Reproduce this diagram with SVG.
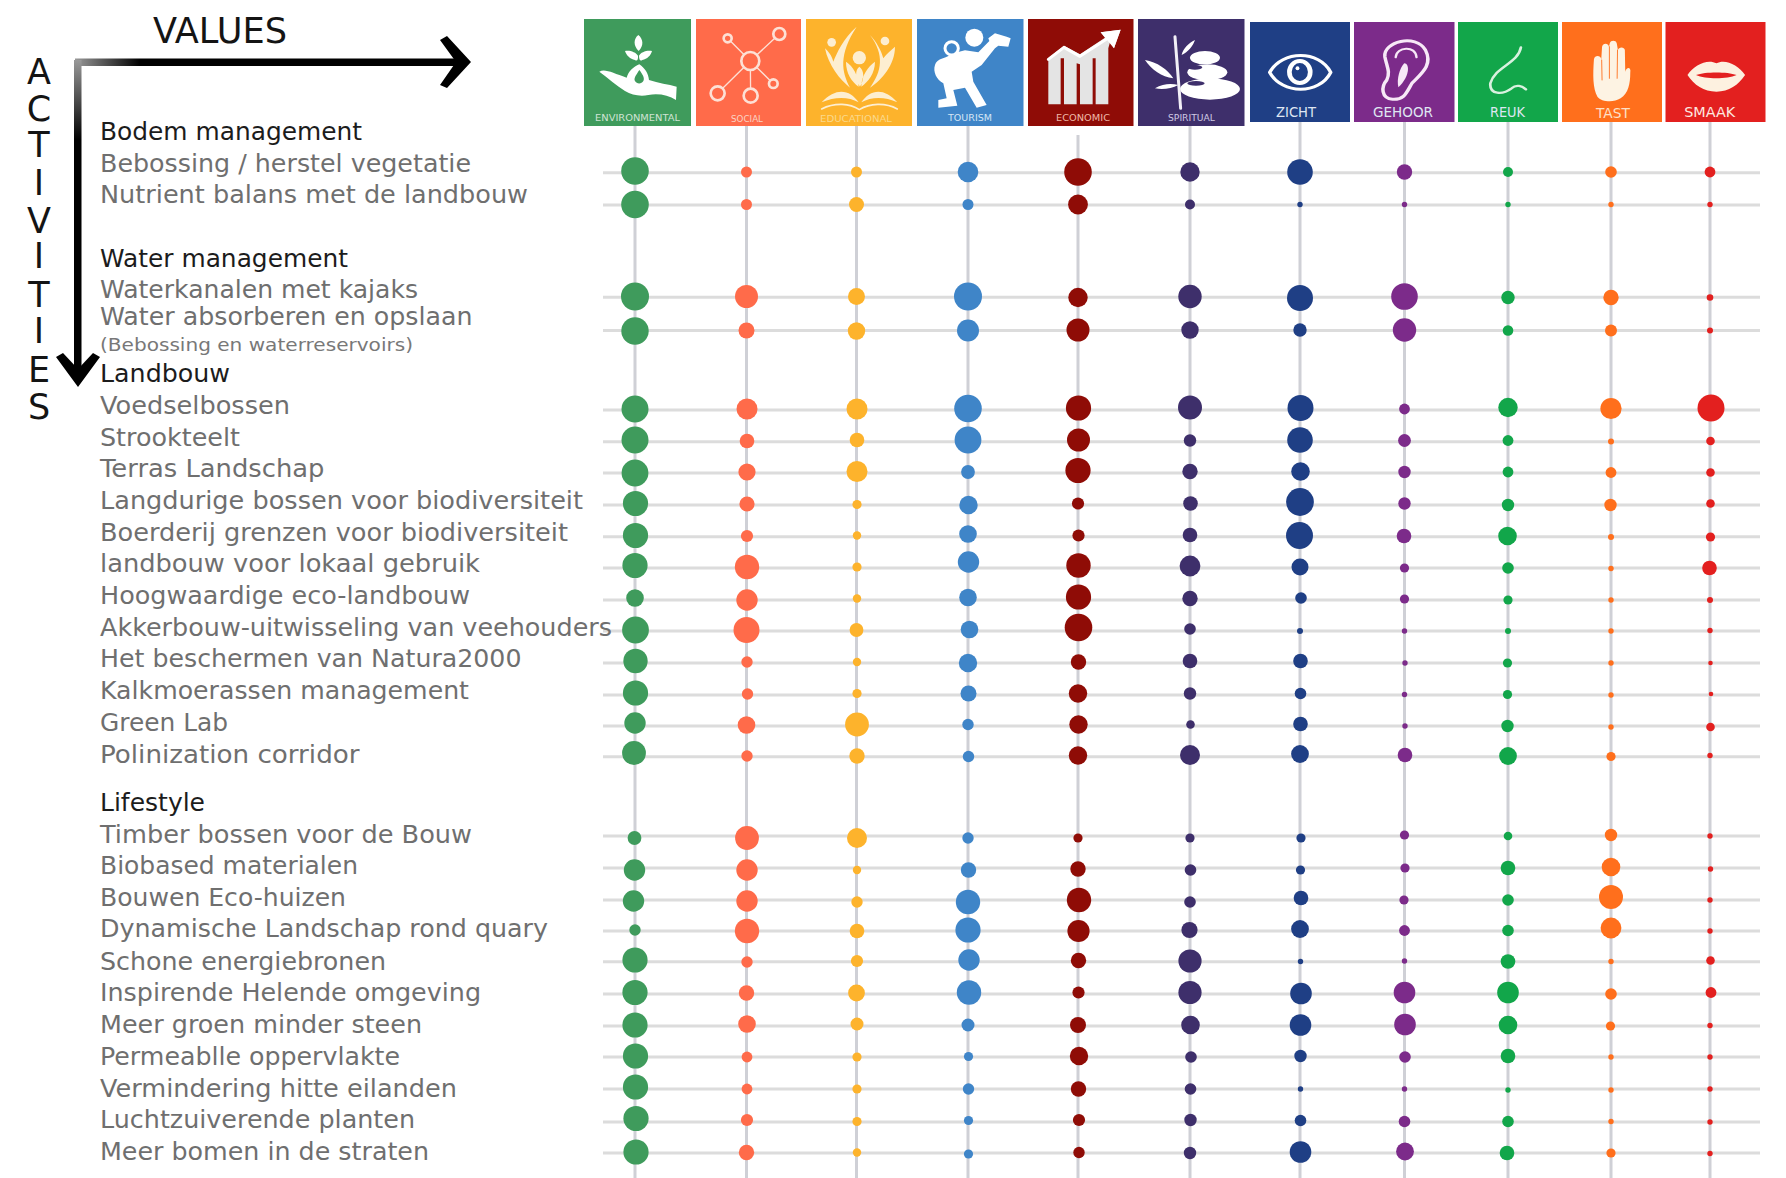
<svg xmlns="http://www.w3.org/2000/svg" width="1786" height="1178" viewBox="0 0 1786 1178">
<style>
text{font-family:"DejaVu Sans","Liberation Sans",sans-serif}
.h{font-size:24.5px;fill:#1c1c1c}
.t{font-size:24.5px;fill:#6f6f6f}
.s{font-size:18.5px;fill:#787878}
.ax{font-size:35px;fill:#141414}
.ac{text-anchor:middle}
.l1{font-size:9.5px;text-anchor:middle}
.l2{font-size:14.5px;text-anchor:middle;fill:#dfe6f2}
.hl line{stroke:#dcdcdc;stroke-width:3}
.vl line{stroke:#cfd0d6;stroke-width:3}
.c0{fill:#3f9b5c}.c1{fill:#ff6b4a}.c2{fill:#fdb32c}.c3{fill:#3f85c8}.c4{fill:#8f0c06}.c5{fill:#3e2f6b}.c6{fill:#1f3f85}.c7{fill:#7c2b8a}.c8{fill:#12a64a}.c9{fill:#ff6f1c}.c10{fill:#e3201f}
.w{fill:#fff}.ln{fill:none;stroke-linecap:round;stroke-linejoin:round}
</style>
<defs>
<linearGradient id="gh" gradientUnits="userSpaceOnUse" x1="75" y1="0" x2="140" y2="0"><stop offset="0" stop-color="#999"/><stop offset="1" stop-color="#000"/></linearGradient>
<linearGradient id="gv" gradientUnits="userSpaceOnUse" x1="0" y1="60" x2="0" y2="140"><stop offset="0" stop-color="#999"/><stop offset="1" stop-color="#000"/></linearGradient>
</defs>
<rect width="1786" height="1178" fill="#fff"/>

<g id="connectors">
<g class="vl">
<line x1="635" y1="126" x2="635" y2="1178"/><line x1="746.5" y1="126" x2="746.5" y2="1178"/><line x1="856.5" y1="126" x2="856.5" y2="1178"/><line x1="968" y1="126" x2="968" y2="1178"/><line x1="1078" y1="135" x2="1078" y2="1178"/><line x1="1190" y1="126" x2="1190" y2="1178"/><line x1="1300" y1="122" x2="1300" y2="1178"/><line x1="1404.5" y1="122" x2="1404.5" y2="1178"/><line x1="1508" y1="122" x2="1508" y2="1178"/><line x1="1611" y1="122" x2="1611" y2="1178"/><line x1="1710" y1="122" x2="1710" y2="1178"/>
</g>
<g class="hl">
<line x1="603" y1="172.7" x2="1760" y2="172.7"/><line x1="603" y1="205" x2="1760" y2="205"/><line x1="603" y1="297.3" x2="1760" y2="297.3"/><line x1="603" y1="330.5" x2="1760" y2="330.5"/><line x1="603" y1="410" x2="1760" y2="410"/><line x1="603" y1="441.7" x2="1760" y2="441.7"/><line x1="603" y1="473" x2="1760" y2="473"/><line x1="603" y1="505" x2="1760" y2="505"/><line x1="603" y1="536.7" x2="1760" y2="536.7"/><line x1="603" y1="568" x2="1760" y2="568"/><line x1="603" y1="600" x2="1760" y2="600"/><line x1="603" y1="631" x2="1760" y2="631"/><line x1="603" y1="663" x2="1760" y2="663"/><line x1="603" y1="695" x2="1760" y2="695"/><line x1="603" y1="726" x2="1760" y2="726"/><line x1="603" y1="756.7" x2="1760" y2="756.7"/><line x1="603" y1="836" x2="1760" y2="836"/><line x1="603" y1="868" x2="1760" y2="868"/><line x1="603" y1="900" x2="1760" y2="900"/><line x1="603" y1="931" x2="1760" y2="931"/><line x1="603" y1="961.7" x2="1760" y2="961.7"/><line x1="603" y1="994" x2="1760" y2="994"/><line x1="603" y1="1026" x2="1760" y2="1026"/><line x1="603" y1="1057" x2="1760" y2="1057"/><line x1="603" y1="1089" x2="1760" y2="1089"/><line x1="603" y1="1122" x2="1760" y2="1122"/><line x1="603" y1="1153" x2="1760" y2="1153"/>
</g>
</g>

<g id="axes">
<rect x="75" y="58.5" width="382" height="7.5" fill="url(#gh)"/>
<rect x="74" y="60" width="7.5" height="315" fill="url(#gv)"/>
<path d="M440 40 L447 36 L471 62 L447 88 L440 85 L456 62Z" fill="#000"/>
<path d="M56 357 L63 353 L78 369 L93 353 L100 357 L78 387Z" fill="#000"/>
<text class="ax" x="153" y="43" textLength="134" lengthAdjust="spacingAndGlyphs">VALUES</text>
<g class="ac">
<text class="ax" x="39" y="84">A</text><text class="ax" x="39" y="120.7">C</text><text class="ax" x="39" y="156.7">T</text><text class="ax" x="39" y="195">I</text><text class="ax" x="39" y="233">V</text><text class="ax" x="39" y="268">I</text><text class="ax" x="39" y="306.7">T</text><text class="ax" x="39" y="343">I</text><text class="ax" x="39" y="381.7">E</text><text class="ax" x="39" y="419">S</text>
</g>
</g>

<g id="tile-environmental"><rect class="c0" x="584" y="19" width="107" height="107"/>
<g transform="translate(580 15) scale(.3333)"><path class="w" d="M58 170C75 160 100 175 140 188C145 170 160 155 178 148C195 160 205 175 207 195C235 205 265 208 290 215L288 255C265 240 235 235 205 240C180 245 155 240 135 228C110 212 85 190 58 170Z"/><path class="c0" d="M178 165C188 178 195 190 190 198C185 208 170 208 165 198C160 190 170 178 178 165Z"/><path class="w" d="M175 60C190 72 192 92 176 108C160 92 160 72 175 60ZM135 108C150 105 168 112 174 122C175 132 172 140 165 135C150 132 140 122 135 108ZM216 108C200 105 182 112 177 122C177 132 180 140 187 135C202 132 212 122 216 108Z"/></g>
<text class="l1" x="637.5" y="121" fill="#cfe3d4" textLength="85" lengthAdjust="spacingAndGlyphs">ENVIRONMENTAL</text></g>

<g id="tile-social"><rect class="c1" x="696" y="19" width="105" height="107"/>
<g transform="translate(580 15) scale(.3333)" class="ln" stroke="#fde0d5"><path stroke-width="4" d="M511 138L598 57M511 138L443 70M511 138L413 235M511 138L512 242M511 138L580 206"/><g stroke-width="8"><circle class="c1" cx="511" cy="138" r="27" stroke="#fde0d5"/><circle class="c1" cx="598" cy="57" r="18" stroke="#fde0d5"/><circle class="c1" cx="443" cy="70" r="12" stroke="#fde0d5"/><circle class="c1" cx="413" cy="235" r="21" stroke="#fde0d5"/><circle class="c1" cx="512" cy="242" r="21" stroke="#fde0d5"/><circle class="c1" cx="580" cy="206" r="13" stroke="#fde0d5"/></g></g>
<text class="l1" x="747" y="122" fill="#fbd3c4" textLength="32" lengthAdjust="spacingAndGlyphs">SOCIAL</text></g>

<g id="tile-educational"><rect class="c2" x="806" y="19" width="106" height="107"/>
<g transform="translate(580 15) scale(.3333)" fill="#fdeed0"><circle cx="755" cy="82" r="13"/><circle cx="915" cy="78" r="13"/><circle cx="838" cy="128" r="20"/><path d="M735 100C745 150 780 195 810 218C785 170 775 120 830 35C790 70 770 115 760 140C755 120 745 110 735 100ZM945 95C945 150 905 195 870 218C905 170 915 120 870 60C890 80 905 110 910 130C920 115 935 105 945 95ZM836 215C815 200 798 175 798 140C820 155 835 180 836 215ZM844 215C865 200 885 175 885 140C865 155 845 180 844 215ZM840 215C825 190 825 165 838 155C852 165 855 190 840 215Z"/><path d="M725 262C770 215 810 225 836 262C805 245 765 245 725 262ZM952 262C910 215 870 225 844 262C875 245 915 245 952 262Z"/><path class="ln" stroke="#fdeed0" stroke-width="5" d="M725 282C765 262 810 265 838 284C870 265 915 262 952 282"/></g>
<text class="l1" x="856" y="122" fill="#fbd98a" textLength="72" lengthAdjust="spacingAndGlyphs">EDUCATIONAL</text></g>

<g id="tile-tourism"><rect class="c3" x="917" y="19" width="106.5" height="107"/>
<g transform="translate(910 15) scale(.3333)"><circle class="w" cx="193" cy="68" r="27"/><path class="w" d="M75 150C80 130 110 130 130 115L165 106L205 112L238 78L235 70L255 55L290 65L302 70L295 95L265 92L255 100L215 150L185 170L190 200L230 270L200 278L165 218L130 225L142 272L85 278L85 255L110 250L100 205C80 195 68 170 75 150Z"/><circle class="c3" cx="125" cy="100" r="20" stroke="#fff" stroke-width="9"/></g>
<text class="l1" x="970" y="121" fill="#d5e6f5" textLength="44" lengthAdjust="spacingAndGlyphs">TOURISM</text></g>

<g id="tile-economic"><rect class="c4" x="1028" y="19" width="105.5" height="107"/>
<g transform="translate(910 15) scale(.3333)"><path fill="#e4e4e4" d="M415 130L462 92L510 118L585 68L572 52L632 44L612 100L600 82L595 100L595 268L557 268L557 130L548 130L548 268L510 268L510 148L500 145L500 268L462 268L462 130L452 130L452 268L415 268Z"/><path class="ln" stroke="#fff" stroke-width="9" d="M415 133L462 97L510 124L590 72"/><path class="w" d="M572 52L632 44L612 100Z"/></g>
<text class="l1" x="1083" y="121" fill="#f0b8a8" textLength="54" lengthAdjust="spacingAndGlyphs">ECONOMIC</text></g>

<g id="tile-spiritual"><rect class="c5" x="1138" y="19" width="106.5" height="107"/>
<g transform="translate(910 15) scale(.3333)"><ellipse class="w" cx="885" cy="128" rx="45" ry="20"/><ellipse class="w" cx="892" cy="172" rx="60" ry="24"/><ellipse class="w" cx="900" cy="222" rx="90" ry="32"/><ellipse class="c5" cx="855" cy="157" rx="22" ry="7"/><ellipse class="c5" cx="858" cy="205" rx="26" ry="7"/><path class="ln" stroke="#f2f0f7" stroke-width="9" d="M795 65L812 280"/><path class="w" d="M705 135C740 140 775 165 790 190C755 185 725 165 705 135ZM735 220C760 205 785 205 805 210C785 220 760 225 735 220ZM855 75C848 95 835 110 815 120C820 100 835 85 855 75Z"/></g>
<text class="l1" x="1191.5" y="121" fill="#cfc9e3" textLength="47" lengthAdjust="spacingAndGlyphs">SPIRITUAL</text></g>

<g id="tile-zicht"><rect class="c6" x="1250" y="22" width="100" height="100"/>
<g transform="translate(1180 0) scale(.3865 .3333)"><path class="ln" stroke="#fff" stroke-width="9" d="M232 217C265 150 360 150 390 217C360 285 265 285 232 217Z"/><ellipse class="ln" cx="310" cy="216" rx="27" ry="33" stroke="#fff" stroke-width="12"/><ellipse class="w" cx="304" cy="205" rx="5" ry="6"/></g>
<text class="l2" x="1296" y="116.7" textLength="40" lengthAdjust="spacingAndGlyphs">ZICHT</text></g>

<g id="tile-gehoor"><rect class="c7" x="1354" y="22" width="100.5" height="100"/>
<g transform="translate(1180 0) scale(.3865 .3333)"><path class="ln" stroke="#f7e9f7" stroke-width="9" d="M530 170C525 125 610 100 635 150C655 195 625 220 600 250C585 280 580 300 550 298C520 295 520 260 535 240C545 215 535 200 530 170Z"/><path class="ln" stroke="#f7e9f7" stroke-width="6" d="M558 172C560 140 610 135 612 172"/><path fill="#f7e9f7" d="M580 190C595 190 595 230 565 262C560 240 568 205 580 190Z"/></g>
<text class="l2" x="1403" y="116.7" textLength="60" lengthAdjust="spacingAndGlyphs">GEHOOR</text></g>

<g id="tile-reuk"><rect class="c8" x="1458" y="22" width="100" height="100"/>
<g transform="translate(1180 0) scale(.3865 .3333)"><path class="ln" stroke="#d8f1df" stroke-width="7" d="M882 142C875 190 815 200 803 250C800 285 835 285 858 265C870 252 885 258 895 268"/></g>
<text class="l2" x="1507.5" y="116.7" textLength="35" lengthAdjust="spacingAndGlyphs">REUK</text></g>

<g id="tile-tast"><rect class="c9" x="1562" y="22" width="100" height="100"/>
<g transform="translate(1180 0) scale(.3865 .3333)"><path fill="#fdf3e3" d="M1080 290C1068 265 1068 225 1071 178C1073 165 1088 165 1090 178L1092 140C1094 128 1108 128 1110 140L1112 130C1114 120 1128 120 1130 130L1133 150C1135 140 1150 140 1151 150L1152 215C1155 200 1168 200 1165 218C1165 250 1160 280 1140 295C1120 310 1090 305 1080 290Z"/><path class="ln" stroke="#ff6f1c" stroke-width="2.5" d="M1091 180L1092 240M1111 140L1111 235M1132 150L1131 235"/></g>
<text class="l2" x="1613" y="118" textLength="34" lengthAdjust="spacingAndGlyphs" style="fill:#fde0c8">TAST</text></g>

<g id="tile-smaak"><rect class="c10" x="1665.5" y="22" width="100" height="100"/>
<g transform="translate(1180 0) scale(.3865 .3333)"><path fill="#fdf1e0" d="M1313 225C1330 195 1365 175 1388 190C1410 175 1445 195 1462 225C1445 255 1420 275 1388 275C1355 275 1330 255 1313 225Z"/><path class="c10" d="M1335 225C1360 215 1415 215 1440 225C1415 238 1360 238 1335 225Z"/></g>
<text class="l2" x="1709.7" y="116.7" textLength="51" lengthAdjust="spacingAndGlyphs" style="fill:#fde8e0">SMAAK</text></g>

<g id="head-bodem"><text class="h" x="100" y="140" textLength="262" lengthAdjust="spacingAndGlyphs">Bodem management</text></g>
<g id="head-water"><text class="h" x="100" y="266.7" textLength="248" lengthAdjust="spacingAndGlyphs">Water management</text></g>
<g id="head-landbouw"><text class="h" x="100" y="381.7" textLength="130" lengthAdjust="spacingAndGlyphs">Landbouw</text></g>
<g id="head-lifestyle"><text class="h" x="100" y="810.7" textLength="105" lengthAdjust="spacingAndGlyphs">Lifestyle</text></g>
<g id="note-water"><text class="s" x="100" y="351" textLength="313" lengthAdjust="spacingAndGlyphs">(Bebossing en waterreservoirs)</text></g>

<g id="row-01"><text class="t" x="100" y="171.7" textLength="371" lengthAdjust="spacingAndGlyphs">Bebossing / herstel vegetatie</text>
<circle class="c0" cx="635" cy="171" r="13.8"/><circle class="c1" cx="746.5" cy="172" r="5.5"/><circle class="c2" cx="856.5" cy="172" r="5.5"/><circle class="c3" cx="968" cy="172" r="10.3"/><circle class="c4" cx="1078" cy="172" r="13.8"/><circle class="c5" cx="1190" cy="172" r="9.7"/><circle class="c6" cx="1300" cy="172" r="12.8"/><circle class="c7" cx="1404.5" cy="172" r="7.7"/><circle class="c8" cx="1508" cy="172" r="5"/><circle class="c9" cx="1611" cy="172" r="5.8"/><circle class="c10" cx="1710" cy="172" r="5.4"/></g>
<g id="row-02"><text class="t" x="100" y="202.7" textLength="428" lengthAdjust="spacingAndGlyphs">Nutrient balans met de landbouw</text>
<circle class="c0" cx="635" cy="204.5" r="13.8"/><circle class="c1" cx="746.5" cy="204.5" r="5.5"/><circle class="c2" cx="856.5" cy="204.5" r="7.5"/><circle class="c3" cx="968" cy="204.5" r="5.5"/><circle class="c4" cx="1078" cy="204.5" r="9.9"/><circle class="c5" cx="1190" cy="204.5" r="5"/><circle class="c6" cx="1300" cy="204.5" r="2.7"/><circle class="c7" cx="1404.5" cy="204.5" r="2.7"/><circle class="c8" cx="1508" cy="204.5" r="2.7"/><circle class="c9" cx="1611" cy="204.5" r="2.7"/><circle class="c10" cx="1710" cy="204.5" r="2.7"/></g>
<g id="row-03"><text class="t" x="100" y="297.7" textLength="318" lengthAdjust="spacingAndGlyphs">Waterkanalen met kajaks</text>
<circle class="c0" cx="635" cy="296.5" r="14"/><circle class="c1" cx="746.5" cy="296.5" r="11.5"/><circle class="c2" cx="856.5" cy="296.5" r="8.5"/><circle class="c3" cx="968" cy="296.5" r="14"/><circle class="c4" cx="1078" cy="297.5" r="9.7"/><circle class="c5" cx="1190" cy="296.5" r="11.7"/><circle class="c6" cx="1300" cy="298" r="13"/><circle class="c7" cx="1404.5" cy="296.5" r="13.3"/><circle class="c8" cx="1508" cy="297.5" r="6.7"/><circle class="c9" cx="1611" cy="297.5" r="7.7"/><circle class="c10" cx="1710" cy="297.5" r="3.3"/></g>
<g id="row-04"><text class="t" x="100" y="325" textLength="372.5" lengthAdjust="spacingAndGlyphs">Water absorberen en opslaan</text>
<circle class="c0" cx="635" cy="331" r="13.7"/><circle class="c1" cx="746.5" cy="330.5" r="8"/><circle class="c2" cx="856.5" cy="331" r="8.7"/><circle class="c3" cx="968" cy="330.5" r="11"/><circle class="c4" cx="1078" cy="330" r="11.5"/><circle class="c5" cx="1190" cy="330" r="8.7"/><circle class="c6" cx="1300" cy="330" r="6.7"/><circle class="c7" cx="1404.5" cy="330" r="11.7"/><circle class="c8" cx="1508" cy="330.5" r="5.3"/><circle class="c9" cx="1611" cy="330.5" r="6"/><circle class="c10" cx="1710" cy="330.5" r="3"/></g>
<g id="row-05"><text class="t" x="100" y="413.5" textLength="190" lengthAdjust="spacingAndGlyphs">Voedselbossen</text>
<circle class="c0" cx="635" cy="409" r="13.5"/><circle class="c1" cx="747" cy="409" r="10.5"/><circle class="c2" cx="857" cy="409" r="10.5"/><circle class="c3" cx="968" cy="408.5" r="13.8"/><circle class="c4" cx="1078.5" cy="408" r="12.6"/><circle class="c5" cx="1190" cy="407.5" r="12"/><circle class="c6" cx="1300.5" cy="408" r="13"/><circle class="c7" cx="1404.5" cy="409" r="5.4"/><circle class="c8" cx="1508" cy="407.5" r="9.7"/><circle class="c9" cx="1611" cy="408.5" r="10.6"/><circle class="c10" cx="1711" cy="408" r="13.5"/></g>
<g id="row-06"><text class="t" x="100" y="445.5" textLength="140" lengthAdjust="spacingAndGlyphs">Strookteelt</text>
<circle class="c0" cx="635" cy="440" r="13.5"/><circle class="c1" cx="747" cy="441" r="7.3"/><circle class="c2" cx="857" cy="440" r="7.3"/><circle class="c3" cx="968" cy="440" r="13.4"/><circle class="c4" cx="1078.5" cy="440" r="11.5"/><circle class="c5" cx="1190" cy="440.5" r="6.2"/><circle class="c6" cx="1300" cy="440" r="12.8"/><circle class="c7" cx="1404.5" cy="440.5" r="6.4"/><circle class="c8" cx="1508" cy="440.5" r="5.4"/><circle class="c9" cx="1611" cy="441.5" r="3"/><circle class="c10" cx="1710.5" cy="441" r="4.3"/></g>
<g id="row-07"><text class="t" x="100" y="477" textLength="224.5" lengthAdjust="spacingAndGlyphs">Terras Landschap</text>
<circle class="c0" cx="635" cy="473" r="13.4"/><circle class="c1" cx="747" cy="472" r="8.6"/><circle class="c2" cx="857" cy="471.5" r="10.5"/><circle class="c3" cx="968" cy="472" r="6.9"/><circle class="c4" cx="1078" cy="470.5" r="12.6"/><circle class="c5" cx="1190" cy="471.5" r="7.7"/><circle class="c6" cx="1300.5" cy="471.5" r="9.3"/><circle class="c7" cx="1404.5" cy="472" r="6.2"/><circle class="c8" cx="1508" cy="472" r="5.4"/><circle class="c9" cx="1611" cy="472.5" r="5.4"/><circle class="c10" cx="1710.5" cy="472.5" r="4.3"/></g>
<g id="row-08"><text class="t" x="100" y="508.7" textLength="483" lengthAdjust="spacingAndGlyphs">Langdurige bossen voor biodiversiteit</text>
<circle class="c0" cx="635.5" cy="503.5" r="12.6"/><circle class="c1" cx="747" cy="504" r="7.6"/><circle class="c2" cx="857" cy="504.5" r="4.6"/><circle class="c3" cx="968.5" cy="505" r="9.2"/><circle class="c4" cx="1078" cy="503.5" r="6.1"/><circle class="c5" cx="1190.5" cy="503.5" r="7.3"/><circle class="c6" cx="1300" cy="502" r="13.9"/><circle class="c7" cx="1404.5" cy="503.5" r="6.2"/><circle class="c8" cx="1508" cy="505" r="6.2"/><circle class="c9" cx="1610.5" cy="505" r="6.2"/><circle class="c10" cx="1710.5" cy="503.5" r="4.3"/></g>
<g id="row-09"><text class="t" x="100" y="540.7" textLength="468" lengthAdjust="spacingAndGlyphs">Boerderij grenzen voor biodiversiteit</text>
<circle class="c0" cx="635.5" cy="535.5" r="12.6"/><circle class="c1" cx="747" cy="536" r="6.1"/><circle class="c2" cx="857" cy="535.5" r="4.2"/><circle class="c3" cx="968" cy="534" r="8.8"/><circle class="c4" cx="1078.5" cy="535.5" r="6.1"/><circle class="c5" cx="1190" cy="535" r="7.3"/><circle class="c6" cx="1299.5" cy="535.5" r="13.5"/><circle class="c7" cx="1404" cy="536" r="7.3"/><circle class="c8" cx="1507.5" cy="536" r="9.3"/><circle class="c9" cx="1611" cy="537" r="3"/><circle class="c10" cx="1710.5" cy="537" r="4.6"/></g>
<g id="row-10"><text class="t" x="100" y="572" textLength="380" lengthAdjust="spacingAndGlyphs">landbouw voor lokaal gebruik</text>
<circle class="c0" cx="635" cy="565.5" r="12.6"/><circle class="c1" cx="747" cy="567" r="12.2"/><circle class="c2" cx="857" cy="567" r="4.6"/><circle class="c3" cx="968.5" cy="562" r="10.7"/><circle class="c4" cx="1078.5" cy="565.5" r="12.2"/><circle class="c5" cx="1190" cy="566" r="10.4"/><circle class="c6" cx="1300" cy="567" r="8.5"/><circle class="c7" cx="1404.5" cy="568" r="4.6"/><circle class="c8" cx="1508" cy="568" r="5.8"/><circle class="c9" cx="1611" cy="568.5" r="2.7"/><circle class="c10" cx="1709.5" cy="568" r="7.3"/></g>
<g id="row-11"><text class="t" x="100" y="604" textLength="370" lengthAdjust="spacingAndGlyphs">Hoogwaardige eco-landbouw</text>
<circle class="c0" cx="635" cy="598" r="8.8"/><circle class="c1" cx="747" cy="600" r="10.7"/><circle class="c2" cx="857" cy="598.5" r="4.2"/><circle class="c3" cx="968" cy="597.5" r="8.8"/><circle class="c4" cx="1078.5" cy="597" r="12.6"/><circle class="c5" cx="1190" cy="598.5" r="7.7"/><circle class="c6" cx="1301" cy="598" r="5.8"/><circle class="c7" cx="1404.5" cy="599" r="4.6"/><circle class="c8" cx="1508" cy="600" r="4.6"/><circle class="c9" cx="1611" cy="600" r="2.7"/><circle class="c10" cx="1710" cy="600" r="3"/></g>
<g id="row-12"><text class="t" x="100" y="635.7" textLength="512" lengthAdjust="spacingAndGlyphs">Akkerbouw-uitwisseling van veehouders</text>
<circle class="c0" cx="635.5" cy="630" r="13.4"/><circle class="c1" cx="746.5" cy="630" r="13"/><circle class="c2" cx="856.5" cy="630" r="6.9"/><circle class="c3" cx="969.5" cy="629.5" r="8.8"/><circle class="c4" cx="1078.5" cy="627.5" r="13.8"/><circle class="c5" cx="1190" cy="629" r="5.8"/><circle class="c6" cx="1300" cy="631" r="3"/><circle class="c7" cx="1404.5" cy="631" r="2.7"/><circle class="c8" cx="1508" cy="631" r="3"/><circle class="c9" cx="1611" cy="631" r="2.7"/><circle class="c10" cx="1710" cy="630.5" r="2.7"/></g>
<g id="row-13"><text class="t" x="100" y="667" textLength="421.5" lengthAdjust="spacingAndGlyphs">Het beschermen van Natura2000</text>
<circle class="c0" cx="635.5" cy="661" r="12.2"/><circle class="c1" cx="747" cy="662" r="5.7"/><circle class="c2" cx="857" cy="662" r="4.2"/><circle class="c3" cx="968" cy="663" r="9.2"/><circle class="c4" cx="1078.5" cy="662" r="7.7"/><circle class="c5" cx="1190" cy="661" r="7.3"/><circle class="c6" cx="1300.5" cy="661" r="7.3"/><circle class="c7" cx="1405" cy="663" r="2.7"/><circle class="c8" cx="1507.5" cy="663" r="4.6"/><circle class="c9" cx="1611" cy="663" r="2.7"/><circle class="c10" cx="1710.5" cy="663" r="2.3"/></g>
<g id="row-14"><text class="t" x="100" y="699" textLength="369" lengthAdjust="spacingAndGlyphs">Kalkmoerassen management</text>
<circle class="c0" cx="635.5" cy="693" r="12.6"/><circle class="c1" cx="747.5" cy="694" r="5.7"/><circle class="c2" cx="857" cy="693.5" r="4.6"/><circle class="c3" cx="968.5" cy="693.5" r="8"/><circle class="c4" cx="1078" cy="693.5" r="9.2"/><circle class="c5" cx="1190" cy="693.5" r="6.2"/><circle class="c6" cx="1300.5" cy="693.5" r="5.8"/><circle class="c7" cx="1404.5" cy="694.5" r="2.7"/><circle class="c8" cx="1507.5" cy="694.5" r="4.6"/><circle class="c9" cx="1611" cy="695" r="2.7"/><circle class="c10" cx="1711" cy="694" r="2.3"/></g>
<g id="row-15"><text class="t" x="100" y="731" textLength="128" lengthAdjust="spacingAndGlyphs">Green Lab</text>
<circle class="c0" cx="635" cy="723" r="10.7"/><circle class="c1" cx="746.5" cy="725" r="8.8"/><circle class="c2" cx="857" cy="724.5" r="11.9"/><circle class="c3" cx="968" cy="724.5" r="5.7"/><circle class="c4" cx="1078.5" cy="724.5" r="9.2"/><circle class="c5" cx="1190.5" cy="724.5" r="4.3"/><circle class="c6" cx="1300.5" cy="724" r="7.3"/><circle class="c7" cx="1405" cy="726" r="2.7"/><circle class="c8" cx="1507.5" cy="726" r="6.2"/><circle class="c9" cx="1611" cy="727" r="2.7"/><circle class="c10" cx="1710.5" cy="727" r="4.3"/></g>
<g id="row-16"><text class="t" x="100" y="762.7" textLength="259.5" lengthAdjust="spacingAndGlyphs">Polinization corridor</text>
<circle class="c0" cx="634" cy="753" r="11.9"/><circle class="c1" cx="747" cy="756" r="5.7"/><circle class="c2" cx="857" cy="756" r="7.7"/><circle class="c3" cx="968.5" cy="756.5" r="5.7"/><circle class="c4" cx="1078" cy="755.5" r="9.2"/><circle class="c5" cx="1190" cy="755" r="10"/><circle class="c6" cx="1300" cy="754" r="8.9"/><circle class="c7" cx="1405" cy="755" r="7.3"/><circle class="c8" cx="1508" cy="756" r="8.9"/><circle class="c9" cx="1611" cy="756.5" r="4.6"/><circle class="c10" cx="1710" cy="755.5" r="2.7"/></g>
<g id="row-17"><text class="t" x="100" y="842.7" textLength="372" lengthAdjust="spacingAndGlyphs">Timber bossen voor de Bouw</text>
<circle class="c0" cx="634.5" cy="838" r="6.9"/><circle class="c1" cx="747" cy="838" r="11.9"/><circle class="c2" cx="857" cy="838" r="10"/><circle class="c3" cx="968" cy="838" r="5.7"/><circle class="c4" cx="1078" cy="838" r="4.6"/><circle class="c5" cx="1190" cy="838" r="4.6"/><circle class="c6" cx="1301" cy="838" r="4.6"/><circle class="c7" cx="1404.5" cy="835" r="4.6"/><circle class="c8" cx="1508" cy="836" r="4.3"/><circle class="c9" cx="1611" cy="835" r="6.2"/><circle class="c10" cx="1710" cy="836" r="2.7"/></g>
<g id="row-18"><text class="t" x="100" y="874" textLength="258" lengthAdjust="spacingAndGlyphs">Biobased materialen</text>
<circle class="c0" cx="634.5" cy="870" r="10.7"/><circle class="c1" cx="747" cy="870" r="10.7"/><circle class="c2" cx="857" cy="870" r="4.2"/><circle class="c3" cx="968.5" cy="870" r="7.7"/><circle class="c4" cx="1078" cy="869" r="7.7"/><circle class="c5" cx="1190.5" cy="870" r="5.8"/><circle class="c6" cx="1300.5" cy="870" r="4.6"/><circle class="c7" cx="1405" cy="868" r="4.6"/><circle class="c8" cx="1508" cy="868" r="7.3"/><circle class="c9" cx="1611" cy="867" r="9.3"/><circle class="c10" cx="1710.5" cy="869" r="2.7"/></g>
<g id="row-19"><text class="t" x="100" y="906" textLength="246" lengthAdjust="spacingAndGlyphs">Bouwen Eco-huizen</text>
<circle class="c0" cx="633.5" cy="901" r="10.7"/><circle class="c1" cx="747" cy="901" r="10.7"/><circle class="c2" cx="857" cy="902" r="5.7"/><circle class="c3" cx="968" cy="902" r="12.2"/><circle class="c4" cx="1079" cy="900" r="12.2"/><circle class="c5" cx="1190" cy="902" r="5.8"/><circle class="c6" cx="1301" cy="898" r="7.3"/><circle class="c7" cx="1404" cy="900" r="4.6"/><circle class="c8" cx="1508" cy="900" r="5.8"/><circle class="c9" cx="1611" cy="897" r="12"/><circle class="c10" cx="1710" cy="900" r="2.7"/></g>
<g id="row-20"><text class="t" x="100" y="937" textLength="448" lengthAdjust="spacingAndGlyphs">Dynamische Landschap rond quary</text>
<circle class="c0" cx="635" cy="930" r="5.7"/><circle class="c1" cx="747" cy="931" r="12.2"/><circle class="c2" cx="857" cy="931" r="7.3"/><circle class="c3" cx="968" cy="930" r="12.6"/><circle class="c4" cx="1078.5" cy="931" r="11.1"/><circle class="c5" cx="1189.5" cy="930" r="8.1"/><circle class="c6" cx="1300" cy="929" r="8.9"/><circle class="c7" cx="1404.5" cy="930.5" r="5.4"/><circle class="c8" cx="1508" cy="930.5" r="5.8"/><circle class="c9" cx="1611" cy="928" r="10.4"/><circle class="c10" cx="1710" cy="931" r="2.7"/></g>
<g id="row-21"><text class="t" x="100" y="970" textLength="286" lengthAdjust="spacingAndGlyphs">Schone energiebronen</text>
<circle class="c0" cx="635" cy="960" r="12.6"/><circle class="c1" cx="747" cy="962" r="5.7"/><circle class="c2" cx="857" cy="961" r="6.1"/><circle class="c3" cx="969" cy="960" r="10.7"/><circle class="c4" cx="1078.5" cy="960.5" r="7.7"/><circle class="c5" cx="1190" cy="961" r="11.6"/><circle class="c6" cx="1300.5" cy="961.5" r="2.7"/><circle class="c7" cx="1404.5" cy="961" r="2.7"/><circle class="c8" cx="1508" cy="961.5" r="7.3"/><circle class="c9" cx="1611" cy="961.5" r="2.7"/><circle class="c10" cx="1710.5" cy="960.5" r="4.3"/></g>
<g id="row-22"><text class="t" x="100" y="1001" textLength="381" lengthAdjust="spacingAndGlyphs">Inspirende Helende omgeving</text>
<circle class="c0" cx="635" cy="992.5" r="12.6"/><circle class="c1" cx="746.5" cy="993" r="7.7"/><circle class="c2" cx="856.5" cy="993" r="8.4"/><circle class="c3" cx="969" cy="992.5" r="12.2"/><circle class="c4" cx="1078.5" cy="992.5" r="6.1"/><circle class="c5" cx="1190" cy="992.5" r="11.6"/><circle class="c6" cx="1301" cy="993.5" r="10.8"/><circle class="c7" cx="1404.5" cy="992.5" r="10.8"/><circle class="c8" cx="1508" cy="992.5" r="10.8"/><circle class="c9" cx="1611" cy="994" r="5.8"/><circle class="c10" cx="1711" cy="992.5" r="5.4"/></g>
<g id="row-23"><text class="t" x="100" y="1033" textLength="322" lengthAdjust="spacingAndGlyphs">Meer groen minder steen</text>
<circle class="c0" cx="635" cy="1025" r="12.6"/><circle class="c1" cx="747" cy="1024" r="8.8"/><circle class="c2" cx="857" cy="1024" r="6.5"/><circle class="c3" cx="968" cy="1025" r="6.5"/><circle class="c4" cx="1078" cy="1025" r="8"/><circle class="c5" cx="1190.5" cy="1025" r="9.3"/><circle class="c6" cx="1300.5" cy="1025" r="10.8"/><circle class="c7" cx="1405" cy="1024.5" r="10.8"/><circle class="c8" cx="1508" cy="1025" r="9.3"/><circle class="c9" cx="1610.5" cy="1026" r="4.6"/><circle class="c10" cx="1710" cy="1025.5" r="2.7"/></g>
<g id="row-24"><text class="t" x="100" y="1065" textLength="300" lengthAdjust="spacingAndGlyphs">Permeablle oppervlakte</text>
<circle class="c0" cx="635.5" cy="1056" r="12.6"/><circle class="c1" cx="747" cy="1057" r="5.4"/><circle class="c2" cx="857" cy="1057" r="4.6"/><circle class="c3" cx="968.5" cy="1056.5" r="4.6"/><circle class="c4" cx="1079" cy="1056" r="9.2"/><circle class="c5" cx="1191" cy="1057" r="5.8"/><circle class="c6" cx="1300.5" cy="1056" r="6.2"/><circle class="c7" cx="1405" cy="1057" r="5.8"/><circle class="c8" cx="1508" cy="1056" r="7.3"/><circle class="c9" cx="1611" cy="1057" r="2.7"/><circle class="c10" cx="1710" cy="1057" r="2.7"/></g>
<g id="row-25"><text class="t" x="100" y="1096.7" textLength="357" lengthAdjust="spacingAndGlyphs">Vermindering hitte eilanden</text>
<circle class="c0" cx="635.5" cy="1087" r="12.6"/><circle class="c1" cx="747" cy="1089" r="5.4"/><circle class="c2" cx="857" cy="1089" r="4.6"/><circle class="c3" cx="968.5" cy="1089" r="5.7"/><circle class="c4" cx="1078.5" cy="1089" r="7.7"/><circle class="c5" cx="1190.5" cy="1089" r="5.8"/><circle class="c6" cx="1300.5" cy="1089" r="2.7"/><circle class="c7" cx="1404.5" cy="1089" r="2.7"/><circle class="c8" cx="1508" cy="1090" r="2.7"/><circle class="c9" cx="1611" cy="1090" r="2.7"/><circle class="c10" cx="1710" cy="1089" r="2.7"/></g>
<g id="row-26"><text class="t" x="100" y="1128" textLength="315" lengthAdjust="spacingAndGlyphs">Luchtzuiverende planten</text>
<circle class="c0" cx="636" cy="1118.5" r="12.6"/><circle class="c1" cx="747" cy="1120" r="6.1"/><circle class="c2" cx="857" cy="1121.5" r="4.6"/><circle class="c3" cx="968.5" cy="1120.5" r="4.6"/><circle class="c4" cx="1079" cy="1120" r="6.1"/><circle class="c5" cx="1190.5" cy="1120" r="6.2"/><circle class="c6" cx="1300.5" cy="1120.5" r="5.8"/><circle class="c7" cx="1404.5" cy="1121.5" r="5.8"/><circle class="c8" cx="1508" cy="1121.5" r="5.8"/><circle class="c9" cx="1611" cy="1121.5" r="2.7"/><circle class="c10" cx="1710" cy="1122" r="2.7"/></g>
<g id="row-27"><text class="t" x="100" y="1160" textLength="329" lengthAdjust="spacingAndGlyphs">Meer bomen in de straten</text>
<circle class="c0" cx="636" cy="1152" r="12.6"/><circle class="c1" cx="746.5" cy="1152.5" r="7.7"/><circle class="c2" cx="857" cy="1152.5" r="4.2"/><circle class="c3" cx="968.5" cy="1154" r="4.6"/><circle class="c4" cx="1079" cy="1152.5" r="5.7"/><circle class="c5" cx="1190" cy="1153" r="6.2"/><circle class="c6" cx="1300.5" cy="1152" r="10.8"/><circle class="c7" cx="1405" cy="1151.5" r="8.9"/><circle class="c8" cx="1507" cy="1153" r="7.3"/><circle class="c9" cx="1611" cy="1153" r="4.6"/><circle class="c10" cx="1710" cy="1153.5" r="2.7"/></g>
</svg>
